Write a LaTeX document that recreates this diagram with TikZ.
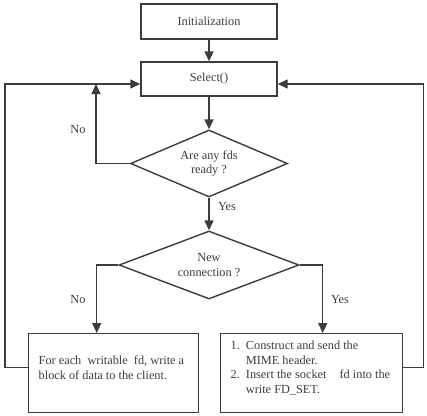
\documentclass[tikz,border=0pt]{standalone}
\usepackage{fontspec}
\setmainfont{Liberation Serif}
\usetikzlibrary{shapes.geometric,arrows.meta,calc}
\definecolor{ln}{HTML}{3C3C3C}
\begin{document}
\begin{tikzpicture}[x=1pt,y=-1pt,
  txt/.style={font=\fontsize{12.3}{14.5}\selectfont,text=ln},
  box/.style={txt,draw=ln,line width=1.4pt,inner sep=0pt},
  dia/.style={txt,diamond,draw=ln,line width=1.4pt,inner sep=0pt,align=center},
  arr/.style={draw=ln,line width=1.4pt,-{Triangle[length=10pt,width=9pt]}},
  lbl/.style={txt}]
\useasboundingbox (0,0) rectangle (427,415);
\node[box,minimum width=136pt,minimum height=35pt] (init) at (209,21.5) {Initialization};
\node[box,minimum width=136pt,minimum height=34pt] (sel) at (209,79) {Select()};
\node[dia,aspect=2.3,minimum width=157pt,minimum height=67pt] (d1) at (209,163.5) {Are any fds\\ready ?};
\node[dia,aspect=2.6,minimum width=180pt,minimum height=68pt] (d2) at (209,265) {New\\connection ?};
\node[box,anchor=north west] (lb) at (28,333)
  {\parbox[c][79pt][t]{170pt}{\fontsize{12.3}{15}\selectfont\raggedright\leftskip=10pt
   \rule{0pt}{31pt}For each\ \ writable\ \ fd, write a\\block of data to the client.}};
\node[box,anchor=north west] (rb) at (220,333)
  {\parbox[c][79pt][t]{182pt}{\begin{tabular}{@{\hspace{10pt}}r@{\hspace{6pt}}l@{}}
   \rule{0pt}{16pt}1. & Construct and send the\\
     & MIME header.\\
   2. & Insert the socket\hspace{10pt} fd into the\\
     & write FD\_SET.
   \end{tabular}}};
\node[lbl] (no1) at (78,130) {No};
\node[lbl] (yes1) at (227,207) {Yes};
\node[lbl] (no2) at (78,300) {No};
\node[lbl] (yes2) at (340,300) {Yes};
\coordinate (sw) at ($(sel.west)+(0,5)$);
\coordinate (se) at ($(sel.east)+(0,5)$);
\coordinate (nl) at (96,84);
\draw[arr] (init) -- (sel);
\draw[arr] (sel) -- (d1);
\draw[arr] (d1) -- (d2);
\draw[arr] (d1.west) -| (nl);
\draw[arr] (d2.west) -| ($(lb.north)+(-17,0)$);
\draw[arr] (d2.east) -| ($(rb.north)+(11,0)$);
\draw[arr] ($(lb.west)+(0,-5.5)$) -- ++(-23,0) |- (sw);
\draw[arr] ($(rb.east)+(0,-5.5)$) -- ++(20,0) |- (se);
\end{tikzpicture}
\end{document}
